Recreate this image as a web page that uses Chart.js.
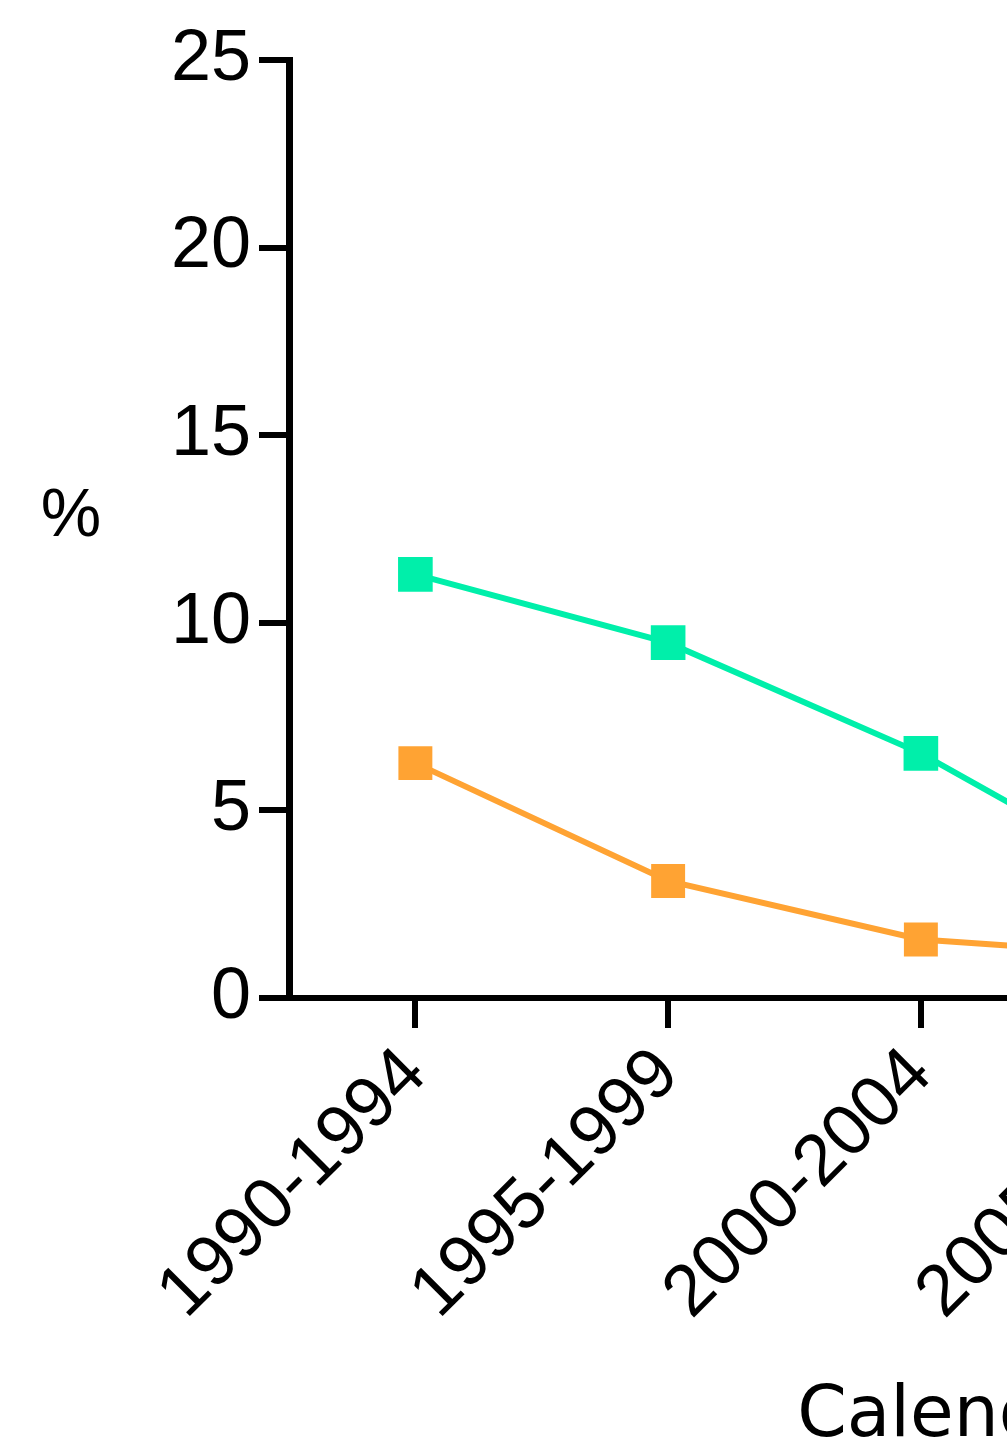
<!DOCTYPE html>
<html>
<head>
<meta charset="utf-8">
<script src="https://cdn.jsdelivr.net/npm/chart.js@4.4.0/dist/chart.umd.min.js"></script>
<style>
  html, body { margin: 0; padding: 0; background: #fff; overflow: hidden; }
  #wrap { width: 1007px; height: 1445px; overflow: hidden; position: relative; }
  canvas { display: block; }
</style>
</head>
<body>
<div id="wrap"><canvas id="c" width="1830" height="1460"></canvas></div>
<script>
const categories = ["1990-1994", "1995-1999", "2000-2004", "2005-2009", "2010-2014", "2015-2019"];
const seriesGreen = [11.29, 9.47, 6.52, 2.75, null, null];
const seriesOrange = [6.26, 3.12, 1.56, 1.09, null, null];
const yTicks = [0, 5, 10, 15, 20, 25];
const yTitle = "%";
const xTitle = "Calendar year";

const FONT = "'Liberation Sans', Arial, sans-serif";
const FS = 72;

const yLabelPlugin = {
  id: 'yLabel',
  afterDraw(chart) {
    const ctx = chart.ctx;
    ctx.save();
    ctx.font = "68px " + FONT;
    ctx.fillStyle = "#000";
    ctx.textAlign = "center";
    ctx.textBaseline = "middle";
    ctx.fillText(yTitle, 71, 517);
    ctx.restore();
  }
};

new Chart(document.getElementById('c'), {
  type: 'line',
  data: {
    labels: categories,
    datasets: [
      {
        data: seriesGreen,
        borderColor: '#00EFAA',
        backgroundColor: '#00EFAA',
        borderWidth: 6,
        pointStyle: 'rect',
        pointRadius: 24.5,
        pointBorderWidth: 0,
        tension: 0
      },
      {
        data: seriesOrange,
        borderColor: '#FFA333',
        backgroundColor: '#FFA333',
        borderWidth: 6,
        pointStyle: 'rect',
        pointRadius: 24,
        pointBorderWidth: 0,
        tension: 0
      }
    ]
  },
  options: {
    responsive: false,
    animation: false,
    devicePixelRatio: 1,
    layout: { padding: { top: 60, right: 23, left: 0, bottom: 0 } },
    plugins: { legend: { display: false }, tooltip: { enabled: false } },
    scales: {
      x: {
        type: 'category',
        offset: true,
        grid: { offset: false, drawOnChartArea: false, drawTicks: true, tickLength: 30, color: '#000', lineWidth: 6 },
        border: { display: true, color: '#000', width: 6 },
        ticks: { color: '#000', font: { family: FONT, size: FS }, minRotation: 45, maxRotation: 45, padding: 4, autoSkip: false },
        title: { display: true, text: xTitle, color: '#000', font: { family: "'DejaVu Sans', sans-serif", size: 71 }, padding: { top: 0, bottom: 0 } },
        afterFit(scale) { scale.height = 1460 - 998; }
      },
      y: {
        min: 0, max: 25,
        afterBuildTicks(scale) { scale.ticks = yTicks.map(v => ({ value: v })); },
        grid: { drawOnChartArea: false, drawTicks: true, tickLength: 30, color: '#000', lineWidth: 6 },
        border: { display: true, color: '#000', width: 7 },
        ticks: { color: '#000', font: { family: FONT, size: FS }, padding: 8 },
        afterFit(scale) { scale.width = 289; }
      }
    }
  },
  plugins: [yLabelPlugin]
});
</script>
</body>
</html>
